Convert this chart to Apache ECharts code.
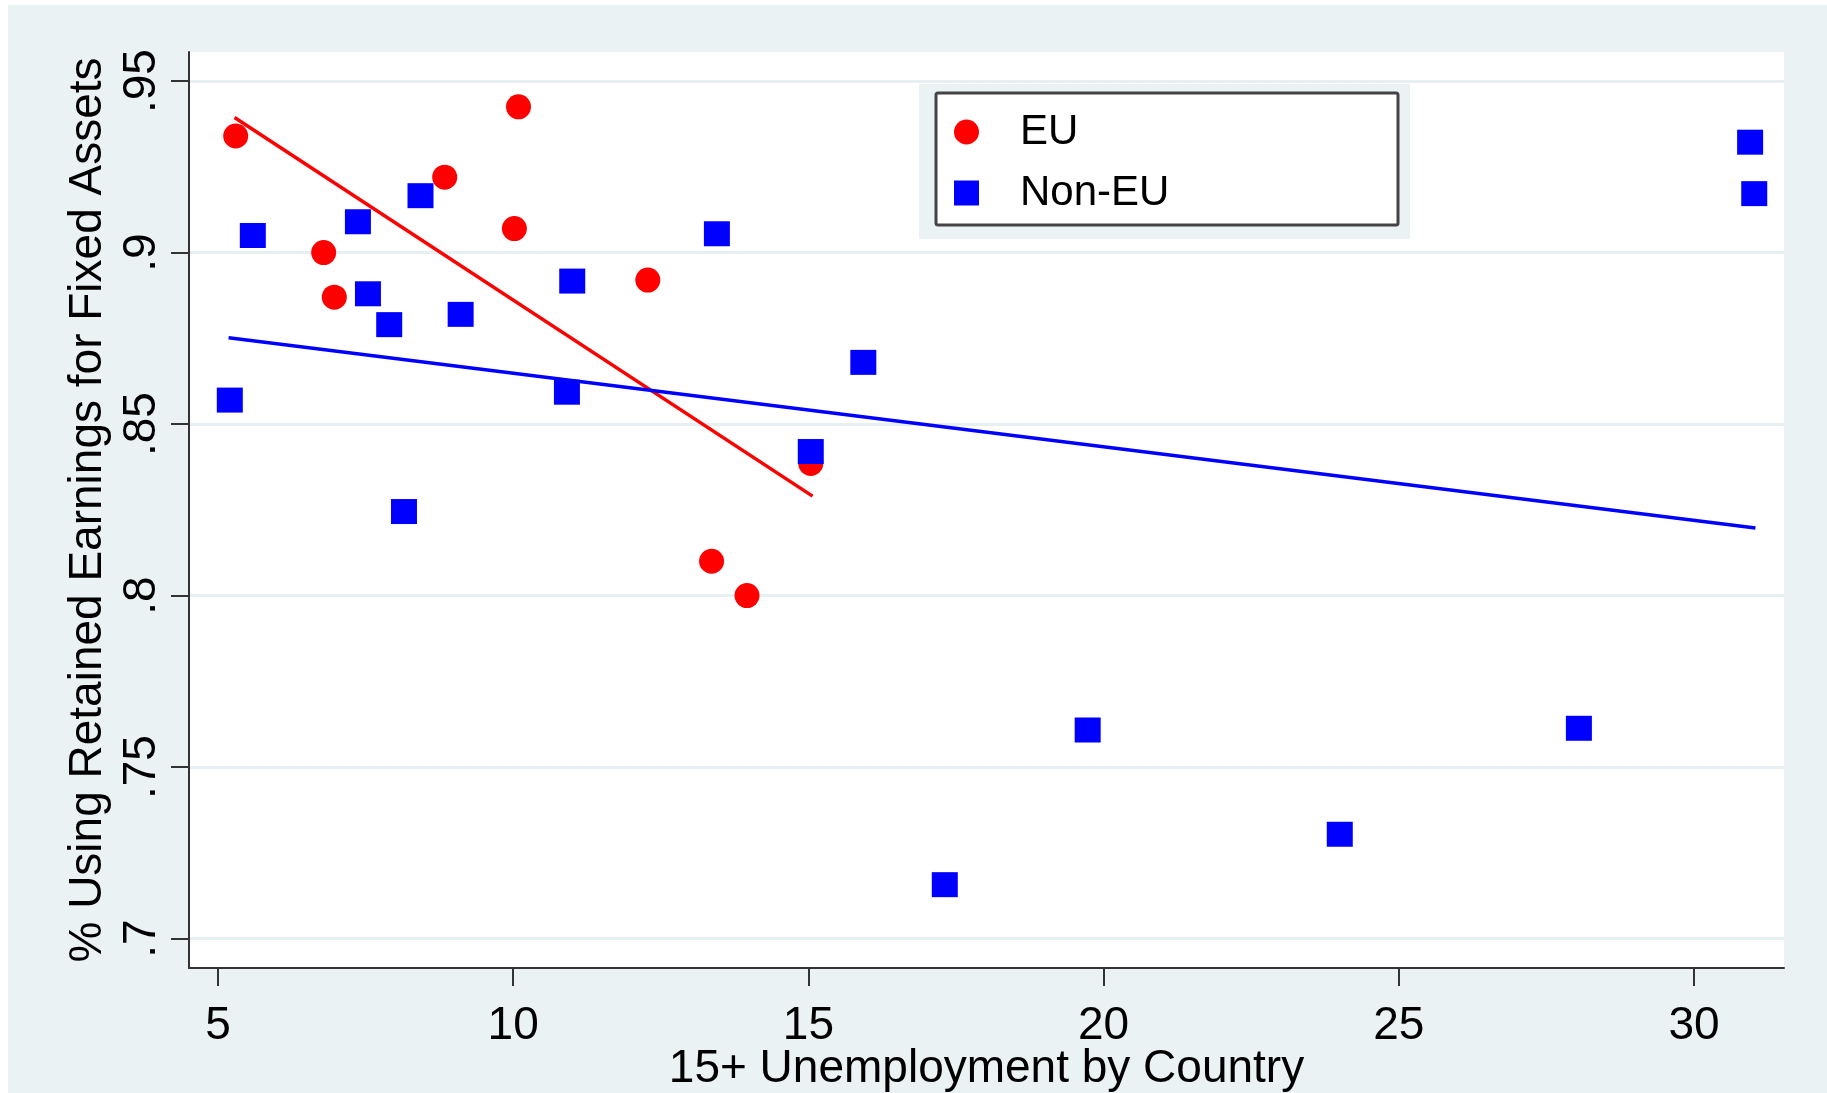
<!DOCTYPE html>
<html>
<head>
<meta charset="utf-8">
<title>Retained earnings vs unemployment</title>
<script src="https://cdn.jsdelivr.net/npm/echarts@6.0.0/dist/echarts.min.js"></script>
<style>
  html, body { margin: 0; padding: 0; background: #fff; }
  #main { width: 1827px; height: 1093px; }
</style>
</head>
<body>
<div id="main"></div>
<script>
// values
const euX = [5.30, 10.09, 8.84, 10.02, 6.79, 6.97, 12.28, 15.04, 13.36, 13.96];
const euY = [0.934, 0.9425, 0.922, 0.907, 0.900, 0.887, 0.892, 0.8385, 0.810, 0.800];

const nonEuX = [5.59, 5.20, 7.37, 8.43, 7.54, 7.90, 9.11, 8.15, 11.00, 10.91, 13.45, 15.04, 15.93, 19.73, 17.31, 24.00, 28.05, 30.95, 31.02];
const nonEuY = [0.905, 0.857, 0.909, 0.9166, 0.888, 0.879, 0.882, 0.8245, 0.8917, 0.8593, 0.9055, 0.842, 0.868, 0.7608, 0.7157, 0.7304, 0.7613, 0.9322, 0.9172];

// fitted lines (end points as drawn)
const euFitX = [5.28, 15.07];
const euFitY = [0.9394, 0.829];
const nonEuFitX = [5.18, 31.04];
const nonEuFitY = [0.8752, 0.8197];

const xTicks = [5, 10, 15, 20, 25, 30];
const yTicks = [0.7, 0.75, 0.8, 0.85, 0.9, 0.95];

const pairs = (xs, ys) => xs.map((x, i) => [x, ys[i]]);

const font = "'Liberation Sans', Arial, sans-serif";
const bg = '#eaf2f3';
const axisColor = '#333';

const chart = echarts.init(document.getElementById('main'));

const option = {
  animation: false,
  backgroundColor: '#fff',
  // outer region + legend frame
  graphic: [
    { type: 'rect', z: -10, silent: true, shape: { x: 8, y: 5, width: 1819, height: 1088 }, style: { fill: bg } },
    { type: 'rect', z: 3, silent: true, shape: { x: 919, y: 84, width: 491, height: 155 }, style: { fill: bg } },
    { type: 'rect', z: 3, silent: true, shape: { x: 936, y: 93, width: 462, height: 132, r: 2 }, style: { fill: '#fff', stroke: '#444', lineWidth: 3 } }
  ],
  grid: {
    left: 189, right: 43, top: 52, bottom: 125,
    outerBoundsMode: 'none',
    containLabel: false,
    show: true, backgroundColor: '#fff', borderWidth: 0
  },
  legend: {
    data: [{ name: 'EU', icon: 'circle' }, { name: 'Non-EU', icon: 'rect' }],
    orient: 'vertical',
    left: 954, top: 111,
    itemWidth: 25, itemHeight: 25, itemGap: 19,
    padding: 0,
    z: 5,
    textStyle: { fontFamily: font, fontSize: 42, color: '#000', lineHeight: 25, padding: [0, 0, 0, 36] }
  },
  xAxis: {
    type: 'value',
    min: 4.509, max: 31.524,
    axisLine: { show: true, onZero: false, lineStyle: { color: axisColor, width: 2 } },
    axisTick: { show: true, length: 18, customValues: xTicks, lineStyle: { color: axisColor, width: 2 } },
    axisLabel: { customValues: xTicks, fontFamily: font, fontSize: 46, color: '#000', margin: 35 },
    splitLine: { show: false },
    name: '15+ Unemployment by Country',
    nameLocation: 'middle',
    nameGap: 78,
    nameMoveOverlap: false,
    nameTextStyle: { fontFamily: font, fontSize: 46, color: '#000' }
  },
  yAxis: {
    type: 'value',
    min: 0.6914, max: 0.9585,
    axisLine: { show: true, onZero: false, lineStyle: { color: axisColor, width: 2 } },
    axisTick: { show: true, length: 18, customValues: yTicks, lineStyle: { color: axisColor, width: 2 } },
    axisLabel: {
      customValues: yTicks, rotate: 90, fontFamily: font, fontSize: 46, color: '#000', margin: 24,
      formatter: v => String(v).replace(/^0/, '')
    },
    splitLine: { show: true, lineStyle: { color: '#e6eff1', width: 3 } },
    name: '% Using Retained Earnings for Fixed Assets',
    nameLocation: 'middle',
    nameRotate: 90,
    nameGap: 76,
    nameTextStyle: { fontFamily: font, fontSize: 46, color: '#000' }
  },
  series: [
    {
      name: 'EU', type: 'scatter', symbol: 'circle', symbolSize: 25, z: 2,
      itemStyle: { color: '#ff0000', opacity: 1 },
      emphasis: { disabled: true },
      data: pairs(euX, euY)
    },
    {
      name: 'Non-EU', type: 'scatter', symbol: 'rect', symbolSize: [26, 25], z: 3,
      itemStyle: { color: '#0000ff', opacity: 1 },
      emphasis: { disabled: true },
      data: pairs(nonEuX, nonEuY)
    },
    {
      name: 'EU fit', type: 'line', symbol: 'none', z: 4,
      lineStyle: { color: '#ff0000', width: 3.5 },
      emphasis: { disabled: true },
      data: pairs(euFitX, euFitY)
    },
    {
      name: 'Non-EU fit', type: 'line', symbol: 'none', z: 4,
      lineStyle: { color: '#0000ff', width: 3.5 },
      emphasis: { disabled: true },
      data: pairs(nonEuFitX, nonEuFitY)
    }
  ]
};

chart.setOption(option);
</script>
</body>
</html>
